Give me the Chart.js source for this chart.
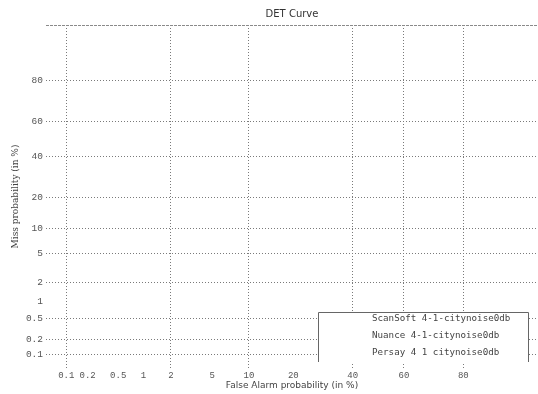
<!DOCTYPE html>
<html>
<head>
<meta charset="utf-8">
<title>DET Curve</title>
<script src="https://cdn.jsdelivr.net/npm/chart.js@4/dist/chart.umd.min.js"></script>
<style>
  html, body { margin: 0; padding: 0; background: #ffffff; overflow: hidden; }
  canvas { display: block; }
</style>
</head>
<body>
<canvas id="det" width="538" height="394"></canvas>
<script>
// Probability ticks (in %) shown on both axes
const tickPercents = [0.1, 0.2, 0.5, 1, 2, 5, 10, 20, 40, 60, 80];
// Which ticks get a grid line
const xGridPercents = [0.1, 2, 10, 40, 60, 80];
const yGridPercents = [0.1, 0.2, 0.5, 2, 5, 10, 20, 40, 60, 80];
// Axis extents (in %)
const xRange = [0.05, 94.3];
const yRange = [0.05, 95];

// System names and their (false alarm %, miss %) operating points
const systems = ['ScanSoft 4-1-citynoise0db', 'Nuance 4-1-citynoise0db', 'Persay 4 1 citynoise0db'];
const scanSoftFA = [];
const scanSoftMiss = [];
const nuanceFA = [];
const nuanceMiss = [];
const persayFA = [];
const persayMiss = [];

// Inverse of the standard normal CDF (Acklam's approximation)
function probit(p) {
  const a = [-3.969683028665376e+01, 2.209460984245205e+02, -2.759285104469687e+02, 1.383577518672690e+02, -3.066479806614716e+01, 2.506628277459239e+00];
  const b = [-5.447609879822406e+01, 1.615858368580409e+02, -1.556989798598866e+02, 6.680131188771972e+01, -1.328068155288572e+01];
  const c = [-7.784894002430293e-03, -3.223964580411365e-01, -2.400758277161838e+00, -2.549732539343734e+00, 4.374664141464968e+00, 2.938163982698783e+00];
  const d = [7.784695709041462e-03, 3.224671290700398e-01, 2.445134137142996e+00, 3.754408661907416e+00];
  const pl = 0.02425, ph = 1 - pl;
  let q, r;
  if (p < pl) {
    q = Math.sqrt(-2 * Math.log(p));
    return (((((c[0]*q+c[1])*q+c[2])*q+c[3])*q+c[4])*q+c[5]) / ((((d[0]*q+d[1])*q+d[2])*q+d[3])*q+1);
  }
  if (p <= ph) {
    q = p - 0.5; r = q * q;
    return (((((a[0]*r+a[1])*r+a[2])*r+a[3])*r+a[4])*r+a[5])*q / (((((b[0]*r+b[1])*r+b[2])*r+b[3])*r+b[4])*r+1);
  }
  q = Math.sqrt(-2 * Math.log(1 - p));
  return -(((((c[0]*q+c[1])*q+c[2])*q+c[3])*q+c[4])*q+c[5]) / ((((d[0]*q+d[1])*q+d[2])*q+d[3])*q+1);
}
const toProbit = pct => probit(pct / 100);

function points(fa, miss) {
  return fa.map((v, i) => ({ x: toProbit(v), y: toProbit(miss[i]) }));
}

const labelFor = v => {
  const hit = tickPercents.find(p => Math.abs(toProbit(p) - v) < 1e-6);
  return hit === undefined ? '' : String(hit);
};

const gridLine = (list, v) => list.some(p => Math.abs(toProbit(p) - v) < 1e-6);

// Boxed legend in the lower right of the plot area
const boxLegend = {
  id: 'boxLegend',
  afterDatasetsDraw(chart) {
    const ctx = chart.ctx;
    const area = chart.chartArea;
    const x = area.right - 220;
    const right = area.right - 9;
    const top = area.bottom - 56;
    const bottom = area.bottom - 6;
    ctx.save();
    ctx.fillStyle = '#ffffff';
    ctx.fillRect(x, top, right - x, bottom - top);
    ctx.strokeStyle = '#666666';
    ctx.lineWidth = 1;
    ctx.beginPath();
    ctx.moveTo(x + 0.5, bottom);
    ctx.lineTo(x + 0.5, top + 0.5);
    ctx.lineTo(right - 0.5, top + 0.5);
    ctx.lineTo(right - 0.5, bottom);
    ctx.stroke();
    ctx.fillStyle = '#444444';
    ctx.font = '9.2px "DejaVu Sans Mono", monospace';
    ctx.textBaseline = 'middle';
    chart.data.datasets.forEach((ds, i) => {
      ctx.fillText(ds.label, x + 54, top + 7 + i * 17);
    });
    ctx.restore();
  }
};

new Chart(document.getElementById('det'), {
  type: 'line',
  data: {
    datasets: [
      { label: systems[0], data: points(scanSoftFA, scanSoftMiss), borderColor: '#2040c0', pointRadius: 0, borderWidth: 1 },
      { label: systems[1], data: points(nuanceFA, nuanceMiss), borderColor: '#c02020', pointRadius: 0, borderWidth: 1 },
      { label: systems[2], data: points(persayFA, persayMiss), borderColor: '#20a020', pointRadius: 0, borderWidth: 1 }
    ]
  },
  options: {
    responsive: false,
    animation: false,
    layout: { padding: 0 },
    plugins: {
      legend: { display: false },
      tooltip: { enabled: false },
      title: {
        display: true,
        text: 'DET Curve',
        fullSize: false,
        color: '#333333',
        font: { family: '"DejaVu Sans", sans-serif', size: 10, weight: 'normal' },
        padding: { top: 8, bottom: 5 }
      }
    },
    scales: {
      x: {
        type: 'linear',
        min: toProbit(xRange[0]),
        max: toProbit(xRange[1]),
        afterBuildTicks: s => { s.ticks = tickPercents.map(p => ({ value: toProbit(p) })); },
        afterFit: s => { s.height = 26; },
        ticks: {
          autoSkip: false, maxRotation: 0, padding: 2,
          color: '#555555',
          font: { family: '"Liberation Mono", monospace', size: 9 },
          callback: v => labelFor(v)
        },
        grid: {
          drawTicks: false,
          lineWidth: 1,
          color: c => (c.tick && gridLine(xGridPercents, c.tick.value)) ? '#7a7a7a' : 'rgba(0,0,0,0)'
        },
        border: { display: false, dash: [1, 2] },
        title: {
          display: true,
          text: 'False Alarm probability (in %)',
          color: '#444444',
          font: { family: '"DejaVu Sans", sans-serif', size: 9 },
          padding: { top: 0, bottom: 3 }
        }
      },
      y: {
        type: 'linear',
        min: toProbit(yRange[0]),
        max: toProbit(yRange[1]),
        afterBuildTicks: s => {
          s.ticks = tickPercents.map(p => ({ value: toProbit(p) }));
          s.ticks.push({ value: toProbit(yRange[1]) });
        },
        afterFit: s => { s.width = 46; },
        ticks: {
          autoSkip: false, padding: 3,
          color: '#555555',
          font: { family: '"Liberation Mono", monospace', size: 9.5 },
          callback: v => labelFor(v)
        },
        grid: {
          drawTicks: false,
          lineWidth: 1,
          color: c => {
            if (!c.tick) return 'rgba(0,0,0,0)';
            if (Math.abs(c.tick.value - toProbit(yRange[1])) < 1e-6) return '#8a8a8a';
            return gridLine(yGridPercents, c.tick.value) ? '#7a7a7a' : 'rgba(0,0,0,0)';
          }
        },
        border: {
          display: false,
          dash: c => (c.tick && Math.abs(c.tick.value - toProbit(yRange[1])) < 1e-6) ? [3, 1] : [1, 2]
        },
        title: {
          display: true,
          text: 'Miss probability (in %)',
          color: '#444444',
          font: { family: '"DejaVu Serif", serif', size: 9 },
          padding: { top: 10, bottom: 0 }
        }
      }
    }
  },
  plugins: [boxLegend]
});
</script>
</body>
</html>
